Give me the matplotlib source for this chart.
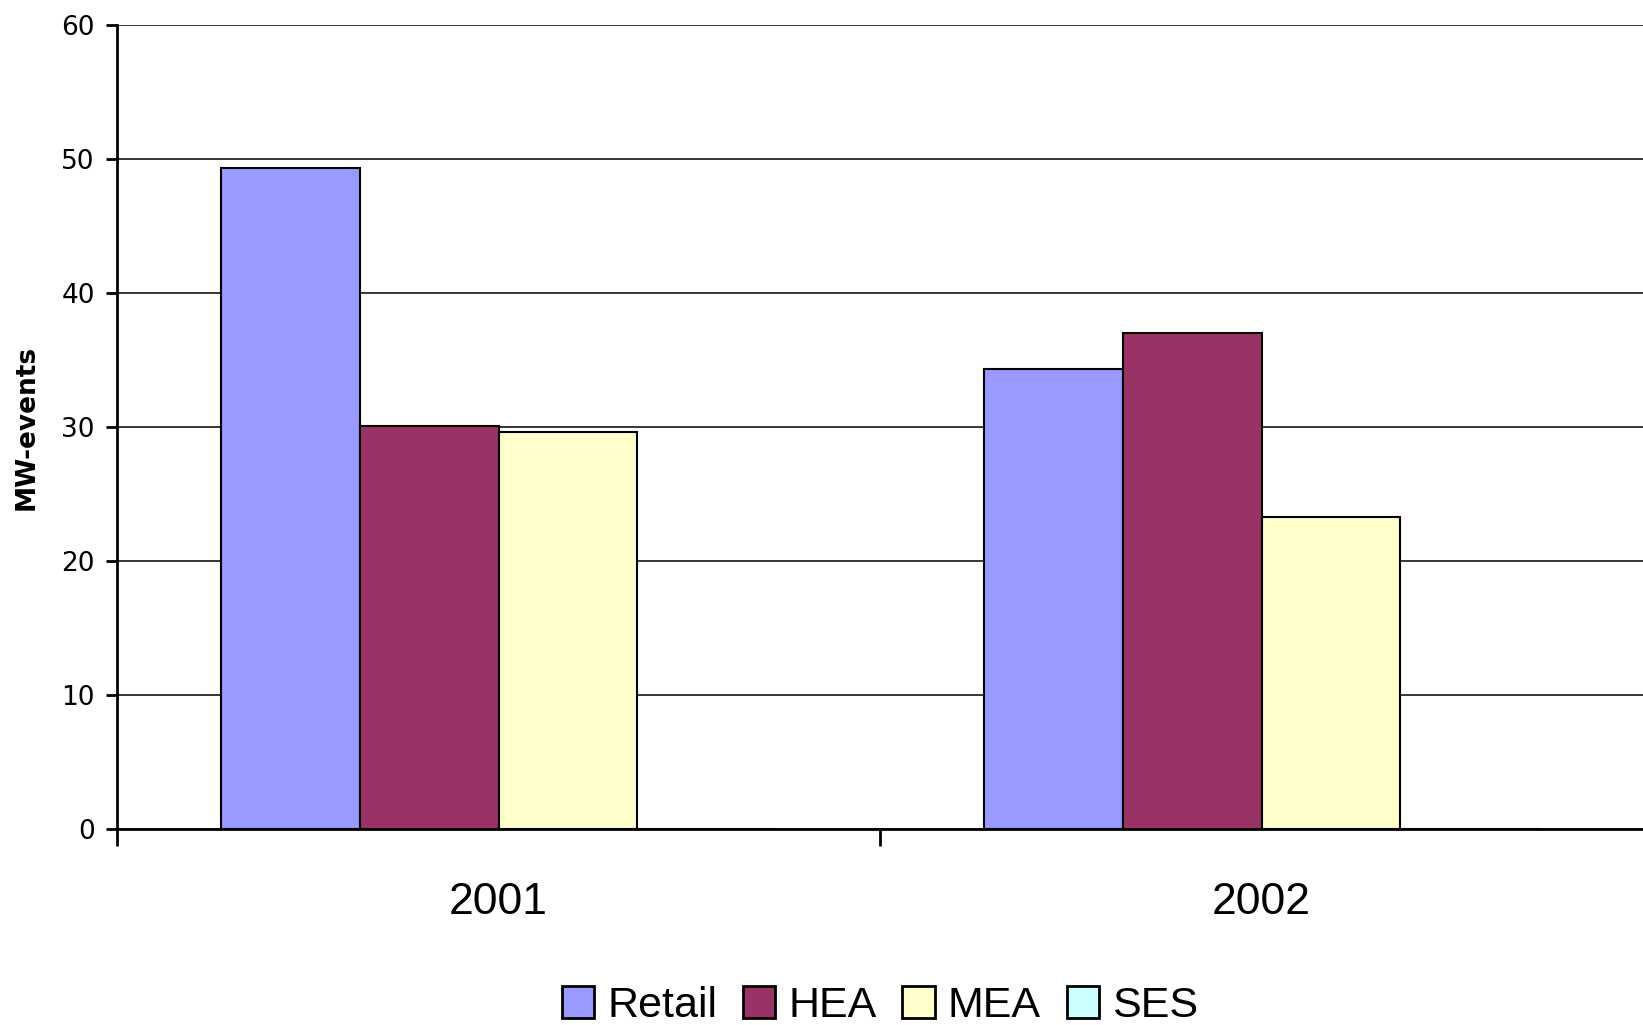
import matplotlib
matplotlib.use("Agg")
import matplotlib.pyplot as plt
import numpy as np
from matplotlib.ticker import FixedLocator

categories = ["2001", "2002"]
series = ["Retail", "HEA", "MEA", "SES"]
retail = [49.3, 34.3]
hea = [30.1, 37.0]
mea = [29.6, 23.3]
ses = [0.0, 0.0]
colors = ["#9999FF", "#993366", "#FFFFCC", "#CCFFFF"]
yticks = [0, 10, 20, 30, 40, 50, 60]

values = [retail, hea, mea, ses]

fig = plt.figure(figsize=(16.43, 10.25), dpi=100)
ax = fig.add_axes([117/1643, 1-829/1025, 1-117/1643, (829-25)/1025])

x = np.arange(len(categories))
w = 1/(len(series)+1.5)
for i, (name, vals, c) in enumerate(zip(series, values, colors)):
    ax.bar(x + (i-1.5)*w, vals, width=w, color=c, edgecolor="black",
           linewidth=1.5, label=name, zorder=3)

ax.set_xlim(-0.5, len(categories)-0.5)
ax.set_ylim(0, 60)
ax.set_yticks(yticks)
ax.yaxis.grid(True, color="black", linewidth=1.1, zorder=0)
ax.set_axisbelow(True)
for s in ["top", "right"]:
    ax.spines[s].set_visible(False)
for s in ["left", "bottom"]:
    ax.spines[s].set_linewidth(2)
ax.tick_params(axis="y", direction="out", length=8, width=2, labelsize=19, pad=8)
ax.set_xticks(x)
ax.set_xticklabels(categories, fontsize=32, family=["Liberation Sans", "DejaVu Sans"])
ax.tick_params(axis="x", which="major", length=0, pad=38)
ax.xaxis.set_minor_locator(FixedLocator(np.arange(-0.5, len(categories)-0.5, 1.0)))
ax.tick_params(axis="x", which="minor", direction="out", length=12, width=2)
ax.set_ylabel("MW-events", fontsize=19, fontweight="bold")
ax.yaxis.set_label_coords(-0.0505, 0.5)

leg = fig.legend(loc="center", bbox_to_anchor=(880/1643, 1-1006/1025), ncol=4,
                 frameon=False, prop={"family": ["Liberation Sans Narrow", "Liberation Sans", "DejaVu Sans"], "size": 31},
                 handlelength=0.75, handleheight=0.75, handletextpad=0.3, columnspacing=0.6)
for h in leg.legend_handles:
    h.set_linewidth(2)

fig.savefig("out.png", dpi=100)
